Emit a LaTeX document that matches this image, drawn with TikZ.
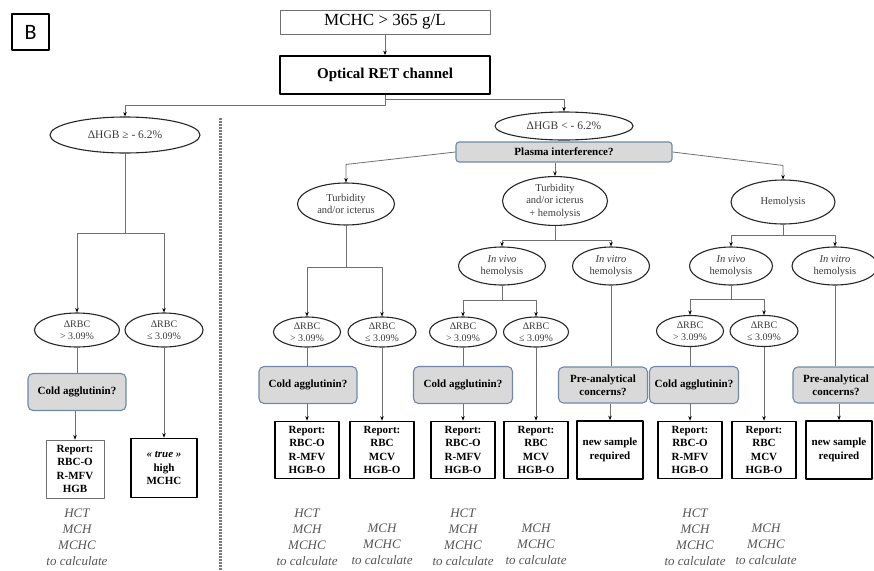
\documentclass[tikz,border=0pt]{standalone}
\usepackage{fontspec}
\setmainfont{Liberation Serif}
\newfontfamily\panelfont{Carlito}
\usetikzlibrary{shapes.geometric,arrows.meta}
\definecolor{linegray}{HTML}{707070}
\definecolor{dotgray}{HTML}{7A7A7A}
\definecolor{askfill}{HTML}{D9D9D9}
\definecolor{askline}{HTML}{7088A8}
\definecolor{ovaltext}{HTML}{3A3A3A}
\definecolor{calctext}{HTML}{555555}
\newcommand\fsz[2]{\fontsize{#1}{#2}\selectfont}
\tikzset{
  conn/.style={draw=linegray, line width=.8pt},
  arr/.style={-{Stealth[length=4.5pt,width=3.5pt,color=black]}},
  oval/.style={ellipse, draw=black!85, line width=1.1pt, text=ovaltext, inner sep=0pt, align=center},
  ask/.style={rectangle, rounded corners=5pt, draw=askline, fill=askfill, line width=1.1pt, font=\bfseries\fsz{11}{13}, align=center, inner sep=0pt},
  repbox/.style={rectangle, draw=black, line width=1.7pt, font=\bfseries\fsz{11}{13.5}, align=center, inner sep=0pt},
  calc/.style={font=\itshape\fsz{13}{16}, text=calctext, align=center, inner sep=0pt, anchor=south},
}
\begin{document}
\begin{tikzpicture}[x=1pt, y=-1pt, line join=round]
  \useasboundingbox (0,0) rectangle (874,570);
  % panel letter and head of the tree
  \node[draw, line width=1.2pt, minimum width=37pt, minimum height=36pt, inner sep=0pt, font=\panelfont\fsz{22}{24}] (panel) at (30.5,32) {B};
  \node[draw=linegray, line width=.9pt, minimum width=210pt, minimum height=24pt, inner sep=0pt, font=\fsz{17}{20}] (mchc) at (385,22) {MCHC > 365 g/L};
  \node[repbox, minimum width=210pt, minimum height=38pt, font=\bfseries\fsz{15}{18}] (ret) at (385,75) {Optical RET channel};
  \node[oval, minimum width=150pt, minimum height=36pt, font=\fsz{11.5}{13}] (hgbL) at (125,135) {ΔHGB ≥ - 6.2\%};
  \node[oval, minimum width=138pt, minimum height=28pt, font=\fsz{11.5}{13}] (hgbR) at (564,126) {ΔHGB < - 6.2\%};
  \node[ask, rounded corners=3pt, minimum width=216pt, minimum height=20pt] (plasma) at (564,152) {Plasma interference?};
  \draw[dotgray, line width=3pt, dash pattern=on 1.5pt off 1.5pt] (220,118) -- (220,570);

  % plasma branches
  \node[oval, minimum width=97pt, minimum height=42pt, font=\fsz{10.5}{12.5}] (turb) at (346,204) {Turbidity\\and/or icterus};
  \node[oval, minimum width=105pt, minimum height=44pt, font=\fsz{10.5}{12.5}] (turbh) at (555,201) {Turbidity\\and/or icterus\\+ hemolysis};
  \node[oval, minimum width=104pt, minimum height=44pt, font=\fsz{10.5}{12.5}] (hemo) at (783,202) {Hemolysis};
  \foreach \n/\x/\w/\t in {vivoM/502/87/vivo, vitroM/611/77/vitro, vivoR/731/83/vivo, vitroR/835/86/vitro}
    \node[oval, minimum width=\w*1pt, minimum height=38pt, font=\fsz{10.5}{12.5}] (\n) at (\x,266) {\textit{In \t}\\hemolysis};

  % delta RBC
  \foreach \n/\x/\y/\w/\h/\s in {rbcL1/77/330/85/34/>, rbcL2/164/330/78/34/≤, rbcT1/307/332/67/30/>, rbcT2/382/332/68/30/≤,
      rbcM1/463/332/67/30/>, rbcM2/536/332/65/30/≤, rbcR1/690/331/67/31/>, rbcR2/764/331/68/31/≤}
    \node[oval, minimum width=\w*1pt, minimum height=\h*1pt, font=\fsz{10}{12}] (\n) at (\x,\y) {ΔRBC\\\s{} 3.09\%};

  % questions
  \foreach \n/\x/\y/\w in {coldL/77/392/98, coldT/308/385/98, coldM/463/385/99, coldR/694/385/89}
    \node[ask, minimum width=\w*1pt, minimum height=37pt] (\n) at (\x,\y) {Cold agglutinin?};
  \node[ask, minimum width=89pt, minimum height=36pt] (preM) at (603,385) {Pre-analytical\\concerns?};
  \node[ask, minimum width=86pt, minimum height=36pt] (preR) at (836,385) {Pre-analytical\\concerns?};

  % results
  \node[repbox, draw=linegray, line width=.9pt, minimum width=58pt, minimum height=58pt] (repL) at (75,469) {Report:\\RBC-O\\R-MFV\\HGB};
  \node[repbox, minimum width=66pt, minimum height=59pt] (trueL) at (164,468) {\textit{« true »}\\high\\MCHC};
  \foreach \n/\x in {repT1/307, repM1/463, repR1/690}
    \node[repbox, minimum width=64pt, minimum height=57pt] (\n) at (\x,450) {Report:\\RBC-O\\R-MFV\\HGB-O};
  \foreach \n/\x in {repT2/382, repM2/536, repR2/764}
    \node[repbox, minimum width=64pt, minimum height=57pt] (\n) at (\x,450) {Report:\\RBC\\MCV\\HGB-O};
  \foreach \n/\x in {newM/610, newR/839}
    \node[repbox, minimum width=66pt, minimum height=58pt] (\n) at (\x,450) {new sample\\required};
  \foreach \n/\x in {calcL/77, calcT1/307, calcM1/463, calcR1/695}
    \node[calc] (\n) at (\x,566) {HCT\\MCH\\MCHC\\to calculate};
  \foreach \n/\x in {calcT2/382, calcM2/536, calcR2/766}
    \node[calc] (\n) at (\x,565) {MCH\\MCHC\\to calculate};

  % connectors
  \draw[conn,arr] (mchc.south) -- (ret.north);
  \draw[conn,arr] (ret.south) -- ++(0,11) -| (hgbL.north);
  \draw[conn,arr] (ret.south) ++(0,5) -| (hgbR.north);
  \draw[conn,arr] (plasma.west) -- ([yshift=18pt]turb.north) -- (turb.north);
  \draw[conn,arr] (plasma.east) -- ([yshift=14pt]hemo.north) -- (hemo.north);
  \draw[conn,arr] (plasma.south -| turbh.north) -- (turbh.north);
  \foreach \p/\a/\b/\d in {hgbL/rbcL1/rbcL2/80, turb/rbcT1/rbcT2/42, turbh/vivoM/vitroM/14,
      vivoM/rbcM1/rbcM2/15, hemo/vivoR/vitroR/11, vivoR/rbcR1/rbcR2/14}{
    \draw[conn] (\p.south) -- ++(0,\d) coordinate (fork);
    \draw[conn,arr] (fork) -| (\a.north);
    \draw[conn,arr] (fork) -| (\b.north);}
  \foreach \a/\b/\c in {rbcL1/coldL/repL, rbcT1/coldT/repT1, rbcM1/coldM/repM1, rbcR1/coldR/repR1, vitroM/preM/newM, vitroR/preR/newR}{
    \draw[conn] (\a.south) -- (\a.south |- \b.north);
    \draw[conn,arr] (\c.north |- \b.south) -- (\c.north);}
  \foreach \a/\b in {rbcL2/trueL, rbcT2/repT2, rbcM2/repM2, rbcR2/repR2}
    \draw[conn,arr] (\a.south) -- (\b.north);
\end{tikzpicture}
\end{document}
